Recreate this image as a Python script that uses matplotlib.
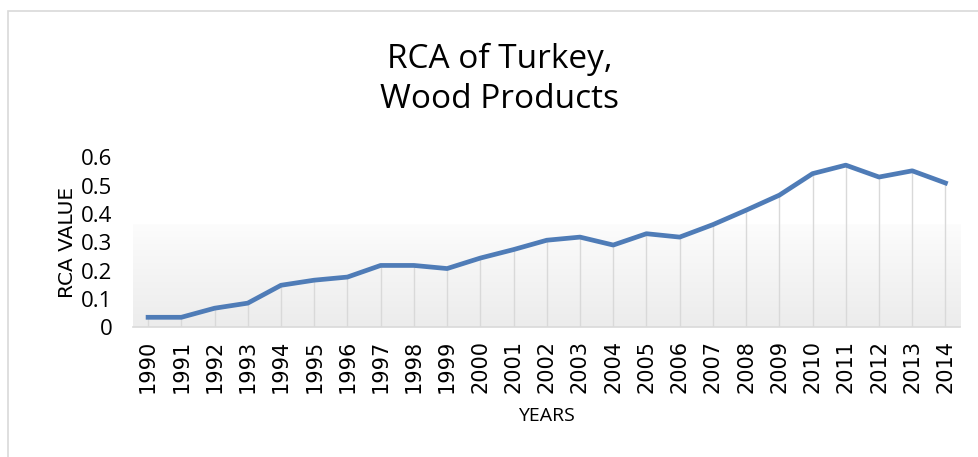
import numpy as np
import matplotlib.pyplot as plt
from matplotlib.patches import Rectangle
from matplotlib.colors import LinearSegmentedColormap

years = [str(y) for y in range(1990, 2015)]
rca = [0.035, 0.035, 0.067, 0.085, 0.148, 0.166, 0.177, 0.218, 0.218, 0.207,
       0.244, 0.274, 0.307, 0.318, 0.290, 0.330, 0.318, 0.362, 0.413, 0.466,
       0.542, 0.572, 0.530, 0.552, 0.509]
y_ticks = [0, 0.1, 0.2, 0.3, 0.4, 0.5, 0.6]
y_labels = ['0', '0.1', '0.2', '0.3', '0.4', '0.5', '0.6']

fig = plt.figure(figsize=(9.79, 4.57), dpi=100)
ax = fig.add_axes([0.136, 0.284, 0.845, 0.372])

# outer frame
fig.patches.append(Rectangle((8/979, -0.01), 1.0, 1 - 11/457 + 0.01,
                             transform=fig.transFigure, fill=False,
                             edgecolor='#d9d9d9', linewidth=1.2))

x = np.arange(len(years))

# faint grey gradient behind the data (darker at the bottom)
cmap = LinearSegmentedColormap.from_list('bg', ['#fcfcfc', '#ececec'])
grad = np.linspace(0, 1, 100).reshape(-1, 1)
ax.imshow(grad, extent=(-0.45, len(years) - 0.55, 0, 0.36), aspect='auto',
          cmap=cmap, zorder=0, origin='upper')

ax.vlines(x, 0, rca, color='#d9d9d9', linewidth=1.0, zorder=1)
ax.plot(x, rca, color='#4f7cb7', linewidth=3.4, solid_joinstyle='round', zorder=3)

ax.set_xlim(-0.45, len(years) - 0.55)
ax.set_ylim(0, 0.6)
for s in ['top', 'right', 'left']:
    ax.spines[s].set_visible(False)
ax.spines['bottom'].set_color('#d9d9d9')
ax.spines['bottom'].set_linewidth(1.2)
ax.set_xticks(x)
ax.set_xticklabels(years, rotation=90, fontsize=15, family='DejaVu Sans')
ax.set_yticks(y_ticks)
ax.set_yticklabels(y_labels, fontsize=16, family='Open Sans')
ax.tick_params(length=0)
ax.tick_params(axis='x', pad=9)
ax.tick_params(axis='y', pad=15)

ax.set_ylabel('RCA VALUE', fontsize=14.5, family='DejaVu Sans', labelpad=3)
ax.set_xlabel('YEARS', fontsize=14, family='Open Sans', labelpad=10)

fig.text(0.510, 0.826, 'RCA of Turkey,\nWood Products', ha='center', va='center',
         fontsize=24, family='Open Sans', linespacing=1.3)

fig.savefig('out.png', dpi=100)
